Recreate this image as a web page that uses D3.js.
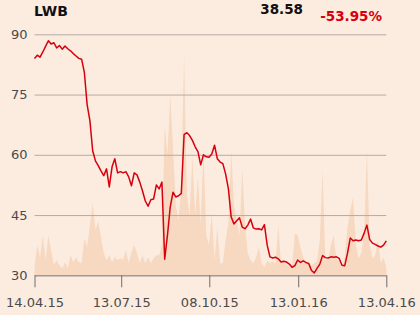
<!DOCTYPE html>
<html>
<head>
<meta charset="utf-8">
<script src="https://cdn.jsdelivr.net/npm/d3@7"></script>
<style>
  html, body { margin: 0; padding: 0; background: #fbecdf; }
  svg { display: block; font-family: "DejaVu Sans", sans-serif; }
</style>
</head>
<body>
<svg id="chart" width="420" height="315"></svg>
<script>
// Closing prices, one sample every second trading day (14.04.15 - 13.04.16)
const price = [
    84.0, 84.8, 84.3, 85.6, 87.0, 88.4, 87.6, 87.9, 86.6, 87.2,
    86.3, 87.1, 86.4, 85.9, 85.2, 84.6, 84.0, 83.8, 80.5, 72.5,
    68.5, 61.0, 58.5, 57.3, 56.0, 54.8, 56.5, 52.0, 57.0, 59.0,
    55.5, 55.8, 55.5, 55.8, 54.5, 52.3, 55.5, 55.0, 53.2, 51.0,
    48.5, 47.2, 48.8, 49.0, 52.5, 51.5, 53.2, 34.0, 40.0, 47.0,
    50.7, 49.5, 49.8, 50.4, 65.0, 65.5, 64.8, 63.6, 62.0, 60.8,
    57.5, 60.0, 59.5, 59.4, 60.2, 62.4, 59.0, 58.2, 57.8, 55.2,
    51.5, 44.5, 42.8, 43.6, 44.3, 42.0, 41.6, 42.5, 44.0, 41.8,
    41.5, 41.6, 41.3, 42.6, 37.5, 34.6, 34.3, 34.5, 34.1, 33.3,
    33.5, 33.3, 32.8, 32.0, 32.4, 33.8, 33.2, 33.6, 33.2, 32.9,
    31.2, 30.6, 31.7, 32.8, 34.9, 34.4, 34.3, 34.6, 34.5, 34.6,
    34.2, 32.5, 32.4, 35.5, 39.3, 38.6, 38.8, 38.6, 38.8, 40.5,
    42.5, 38.9, 38.0, 37.7, 37.3, 37.0, 37.5, 38.58
];

// Traded volume (thousand shares), same sampling
const volume = [
    36, 120, 72, 160, 60, 160, 100, 40, 60, 40,
    28, 52, 28, 80, 52, 72, 52, 48, 148, 112,
    200, 288, 180, 216, 152, 88, 60, 80, 52, 72,
    60, 68, 60, 100, 48, 92, 120, 88, 48, 80,
    48, 72, 48, 68, 80, 80, 120, 600, 480, 720,
    512, 280, 220, 360, 888, 320, 240, 472, 240, 396,
    200, 500, 160, 120, 248, 60, 192, 48, 48, 140,
    208, 500, 280, 220, 160, 428, 200, 88, 60, 48,
    72, 112, 48, 32, 60, 48, 56, 48, 200, 48,
    60, 40, 40, 40, 168, 160, 112, 72, 48, 56,
    40, 48, 56, 140, 420, 56, 64, 120, 160, 64,
    56, 32, 72, 192, 260, 312, 120, 68, 88, 168,
    500, 120, 68, 80, 140, 48, 72, 32
];

const yTicks = [30, 45, 60, 75, 90];
const xTickIdx = [0, 31.3, 63.1, 95.2, 127];
const xTickLabels = ["14.04.15", "13.07.15", "08.10.15", "13.01.16", "13.04.16"];

const title = "LWB";
const lastPrice = "38.58";
const change = "-53.95%";

const dims = { left: 34.5, right: 386.3, top: 34.3, bottom: 275.3 };

const svg = d3.select("#chart");

const xScale = d3.scaleLinear()
    .domain([0, price.length - 1])
    .range([dims.left, dims.right]);

const yScale = d3.scaleLinear()
    .domain([30, 90])
    .range([dims.bottom, dims.top]);

const volScale = d3.scaleLinear()
    .domain([0, 1000])
    .range([dims.bottom, dims.bottom - 250]);

// Volume area (behind everything)
svg.append("path")
    .datum(volume)
    .attr("fill", "#f7d8c0")
    .attr("d", d3.area()
        .x((d, i) => xScale(i))
        .y0(dims.bottom)
        .y1(d => volScale(d)));

// Gridlines + y labels
svg.append("g")
    .attr("transform", `translate(${dims.left},0)`)
    .call(d3.axisLeft(yScale)
        .tickValues(yTicks)
        .tickSize(-(dims.right - dims.left))
        .tickPadding(7))
    .attr("font-family", null)
    .attr("font-size", null)
    .call(g => g.select(".domain").remove())
    .call(g => g.selectAll(".tick line").attr("stroke", "#b5aca4"))
    .call(g => g.selectAll(".tick text")
        .attr("fill", "#4a4a4a")
        .style("font-size", "13px"));

// X axis
svg.append("g")
    .attr("transform", `translate(0,${dims.bottom})`)
    .call(d3.axisBottom(xScale)
        .tickValues(xTickIdx)
        .tickFormat((d, i) => xTickLabels[i])
        .tickSize(12)
        .tickSizeOuter(0)
        .tickPadding(10))
    .attr("font-family", null)
    .attr("font-size", null)
    .call(g => g.select(".domain").attr("stroke", "#8c8c8c"))
    .call(g => g.selectAll(".tick line").attr("stroke", "#6e6e6e"))
    .call(g => g.selectAll(".tick text")
        .attr("fill", "#4a4a4a")
        .style("font-size", "13px"));

// Price line
svg.append("path")
    .datum(price)
    .attr("fill", "none")
    .attr("stroke", "#d6000f")
    .attr("stroke-width", 1.5)
    .attr("stroke-linejoin", "round")
    .attr("d", d3.line()
        .x((d, i) => xScale(i))
        .y(d => yScale(d)));

// Header texts
svg.append("text")
    .attr("x", 34)
    .attr("y", 16)
    .style("font-size", "14px")
    .style("font-weight", "bold")
    .attr("fill", "#111")
    .text(title);

svg.append("text")
    .attr("x", 303)
    .attr("y", 14)
    .attr("text-anchor", "end")
    .style("font-size", "13.5px")
    .style("font-weight", "bold")
    .attr("fill", "#111")
    .text(lastPrice);

svg.append("text")
    .attr("x", 382)
    .attr("y", 21)
    .attr("text-anchor", "end")
    .style("font-size", "13.5px")
    .style("font-weight", "bold")
    .attr("fill", "#d6000f")
    .text(change);
</script>
</body>
</html>
